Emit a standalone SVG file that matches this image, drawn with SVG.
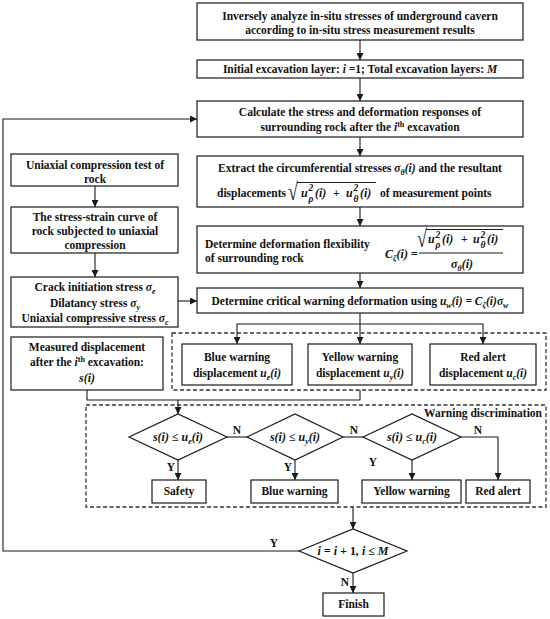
<svg xmlns="http://www.w3.org/2000/svg" width="550" height="619" viewBox="0 0 550 619">
<style>
.box{fill:#fff;stroke:#1a1a1a;stroke-width:1.2}
.dash{fill:none;stroke:#333;stroke-width:1.3;stroke-dasharray:4 2.5}
.t{font-family:"Liberation Serif","Times New Roman",serif;font-weight:bold;font-size:11.5px;fill:#111}
.m{font-style:italic}
.c{text-anchor:middle}
.e{text-anchor:end}
.sb{font-size:8px}
.mt{font-family:"Liberation Serif","Times New Roman",serif;font-weight:bold;font-style:italic;font-size:12px;fill:#111}
.sm{font-size:9.5px}
.rad{font-family:"Liberation Serif","DejaVu Serif",serif;font-size:18px;fill:#111}
.ln{fill:none;stroke:#1a1a1a;stroke-width:1.1}
.ar{marker-end:url(#ah)}
</style>
<defs>
<marker id="ah" viewBox="0 0 10 10" refX="10" refY="5" markerWidth="7" markerHeight="7" markerUnits="userSpaceOnUse" orient="auto">
<path d="M0,0 L10,5 L0,10 z" fill="#1a1a1a"/>
</marker>
</defs>
<rect width="550" height="619" fill="#fff"/>

<g id="group-warnings"><rect class="dash" x="172" y="333" width="374" height="57"/></g>
<g id="group-discrimination"><rect class="dash" x="86" y="405" width="460" height="102"/>
<text class="t e" x="542" y="417">Warning discrimination</text></g>

<g id="connectors">
<line class="ln ar" x1="360" y1="40" x2="360" y2="60"/>
<line class="ln ar" x1="360" y1="78" x2="360" y2="101"/>
<line class="ln ar" x1="360" y1="137" x2="360" y2="156"/>
<line class="ln ar" x1="360" y1="207" x2="360" y2="226"/>
<line class="ln ar" x1="360" y1="273" x2="360" y2="288"/>
<line class="ln ar" x1="95" y1="186" x2="95" y2="207"/>
<line class="ln ar" x1="95" y1="253" x2="95" y2="277"/>
<line class="ln ar" x1="178" y1="301" x2="197" y2="301"/>
<polyline class="ln" points="360,313 360,324"/>
<polyline class="ln ar" points="360,324 237,324 237,344"/>
<line class="ln ar" x1="360" y1="324" x2="360" y2="344"/>
<polyline class="ln ar" points="360,324 483,324 483,344"/>
<polyline class="ln" points="87,390 87,400 360,400 360,390"/>
<line class="ln ar" x1="178" y1="400" x2="178" y2="414"/>
<line class="ln" x1="227" y1="437" x2="247" y2="437"/>
<line class="ln" x1="343" y1="437" x2="363" y2="437"/>
<polyline class="ln ar" points="461,437 498,437 498,480"/>
<line class="ln ar" x1="178" y1="460" x2="178" y2="480"/>
<line class="ln ar" x1="295" y1="460" x2="295" y2="480"/>
<line class="ln ar" x1="412" y1="460" x2="412" y2="480"/>
<line class="ln ar" x1="353" y1="507" x2="353" y2="529"/>
<line class="ln ar" x1="353" y1="573" x2="353" y2="593"/>
<polyline class="ln ar" points="299,551 3,551 3,119 197,119"/>
<text class="t c" x="237" y="434">N</text>
<text class="t c" x="354" y="434">N</text>
<text class="t c" x="478" y="434">N</text>
<text class="t c" x="171" y="471">Y</text>
<text class="t c" x="288" y="471">Y</text>
<text class="t c" x="373" y="466">Y</text>
<text class="t c" x="274" y="547">Y</text>
<text class="t c" x="345" y="586">N</text>
</g>

<g id="box-inverse"><rect class="box" x="197" y="3" width="326" height="37"/>
<text class="t c" x="360" y="20">Inversely analyze in-situ stresses of underground cavern</text>
<text class="t c" x="360" y="34">according to in-situ stress measurement results</text></g>

<g id="box-initial"><rect class="box" x="197" y="60" width="326" height="18"/>
<text class="t c" x="360" y="73">Initial excavation layer: <tspan class="m">i</tspan> =1; Total excavation layers: <tspan class="m">M</tspan></text></g>

<g id="box-calculate"><rect class="box" x="197" y="101" width="326" height="36"/>
<text class="t c" x="360" y="116">Calculate the stress and deformation responses of</text>
<text class="t c" x="360" y="131">surrounding rock after the <tspan class="m">i</tspan><tspan class="sb" dy="-4">th</tspan><tspan dy="4"> excavation</tspan></text></g>

<g id="box-extract"><rect class="box" x="197" y="156" width="326" height="51"/>
<text class="t c" x="360" y="172">Extract the circumferential stresses <tspan class="m">σ</tspan><tspan class="m sb" dy="3">θ</tspan><tspan class="m" dy="-3">(i)</tspan> and the resultant</text>
<text class="t e" x="286" y="197">displacements</text>
<text class="rad" transform="translate(288,200) scale(1,1.35)">√</text>
<line class="ln" x1="297" y1="182.5" x2="376" y2="182.5"/>
<text class="mt" x="301" y="197">u<tspan class="sm" x="308.5" y="191">2</tspan><tspan class="sm" x="308.5" y="202">ρ</tspan><tspan x="315" y="197">(i)</tspan></text>
<text class="t" x="333" y="197">+</text>
<text class="mt" x="346" y="197">u<tspan class="sm" x="353.5" y="191">2</tspan><tspan class="sm" x="353.5" y="202">θ</tspan><tspan x="360" y="197">(i)</tspan></text>
<text class="t" x="380" y="197">of measurement points</text></g>

<g id="box-flexibility"><rect class="box" x="197" y="226" width="326" height="47"/>
<text class="t" x="205" y="248">Determine deformation flexibility</text>
<text class="t" x="205" y="262">of surrounding rock</text>
<text class="mt" x="385" y="258">C<tspan class="sb" dy="3">ζ</tspan><tspan dy="-3">(i) =</tspan></text>
<line class="ln" x1="419" y1="253" x2="503" y2="253"/>
<text class="rad" transform="translate(417,247) scale(1,1.35)">√</text>
<line class="ln" x1="426" y1="229.5" x2="503" y2="229.5"/>
<text class="mt" x="428" y="243">u<tspan class="sm" x="435.5" y="237.5">2</tspan><tspan class="sm" x="435.5" y="248">ρ</tspan><tspan x="442" y="243">(i)</tspan></text>
<text class="t" x="461" y="243">+</text>
<text class="mt" x="473" y="243">u<tspan class="sm" x="480.5" y="237.5">2</tspan><tspan class="sm" x="480.5" y="248">θ</tspan><tspan x="487" y="243">(i)</tspan></text>
<text class="mt c" x="462" y="268">σ<tspan class="sb" dy="3">θ</tspan><tspan dy="-3">(i)</tspan></text></g>

<g id="box-critical"><rect class="box" x="197" y="288" width="326" height="25"/>
<text class="t c" x="360" y="305">Determine critical warning deformation using <tspan class="m">u</tspan><tspan class="m sb" dy="3">w</tspan><tspan class="m" dy="-3">(i) = C</tspan><tspan class="m sb" dy="3">ζ</tspan><tspan class="m" dy="-3">(i)σ</tspan><tspan class="m sb" dy="3">w</tspan></text></g>

<g id="box-uniaxial-test"><rect class="box" x="11" y="154" width="167" height="32"/>
<text class="t c" x="95" y="169">Uniaxial compression test of</text>
<text class="t c" x="95" y="183">rock</text></g>

<g id="box-stress-strain"><rect class="box" x="11" y="207" width="167" height="46"/>
<text class="t c" x="95" y="221">The stress-strain curve of</text>
<text class="t c" x="95" y="235">rock subjected to uniaxial</text>
<text class="t c" x="95" y="249">compression</text></g>

<g id="box-stresses"><rect class="box" x="11" y="277" width="167" height="50"/>
<text class="t c" x="95" y="291">Crack initiation stress <tspan class="m">σ</tspan><tspan class="m sb" dy="3">e</tspan></text>
<text class="t c" x="95" y="307">Dilatancy stress <tspan class="m">σ</tspan><tspan class="m sb" dy="3">y</tspan></text>
<text class="t c" x="95" y="322">Uniaxial compressive stress <tspan class="m">σ</tspan><tspan class="m sb" dy="3">c</tspan></text></g>

<g id="box-measured"><rect class="box" x="11" y="337" width="152" height="53"/>
<text class="t c" x="87" y="351">Measured displacement</text>
<text class="t c" x="87" y="366">after the <tspan class="m">i</tspan><tspan class="sb" dy="-4">th</tspan><tspan dy="4"> excavation:</tspan></text>
<text class="mt c" x="87" y="382">s(i)</text></g>

<g id="box-blue-disp"><rect class="box" x="182" y="344" width="110" height="41"/>
<text class="t c" x="237" y="361">Blue warning</text>
<text class="t c" x="237" y="377">displacement <tspan class="m">u</tspan><tspan class="m sb" dy="3">e</tspan><tspan class="m" dy="-3">(i)</tspan></text></g>

<g id="box-yellow-disp"><rect class="box" x="308" y="344" width="104" height="41"/>
<text class="t c" x="360" y="361">Yellow warning</text>
<text class="t c" x="360" y="377">displacement <tspan class="m">u</tspan><tspan class="m sb" dy="3">y</tspan><tspan class="m" dy="-3">(i)</tspan></text></g>

<g id="box-red-disp"><rect class="box" x="430" y="344" width="106" height="41"/>
<text class="t c" x="483" y="361">Red alert</text>
<text class="t c" x="483" y="377">displacement <tspan class="m">u</tspan><tspan class="m sb" dy="3">c</tspan><tspan class="m" dy="-3">(i)</tspan></text></g>

<g id="dec-blue"><polygon class="box" points="129,437 178,414 227,437 178,460"/>
<text class="mt c" x="178" y="441">s(i) ≤ u<tspan class="sb" dy="3">e</tspan><tspan dy="-3">(i)</tspan></text></g>
<g id="dec-yellow"><polygon class="box" points="247,437 295,414 343,437 295,460"/>
<text class="mt c" x="295" y="441">s(i) ≤ u<tspan class="sb" dy="3">y</tspan><tspan dy="-3">(i)</tspan></text></g>
<g id="dec-red"><polygon class="box" points="363,437 412,414 461,437 412,460"/>
<text class="mt c" x="412" y="441">s(i) ≤ u<tspan class="sb" dy="3">c</tspan><tspan dy="-3">(i)</tspan></text></g>

<g id="box-safety"><rect class="box" x="152" y="480" width="54" height="23"/>
<text class="t c" x="179" y="495">Safety</text></g>
<g id="box-blue-warning"><rect class="box" x="251" y="480" width="87" height="23"/>
<text class="t c" x="294.5" y="495">Blue warning</text></g>
<g id="box-yellow-warning"><rect class="box" x="362" y="480" width="99" height="23"/>
<text class="t c" x="411.5" y="495">Yellow warning</text></g>
<g id="box-red-alert"><rect class="box" x="466" y="480" width="64" height="23"/>
<text class="t c" x="498" y="495">Red alert</text></g>

<g id="dec-loop"><polygon class="box" points="299,551 353,529 407,551 353,573"/>
<text class="mt c" x="353" y="555">i = i + <tspan font-style="normal">1</tspan>, i ≤ M</text></g>

<g id="box-finish"><rect class="box" x="323" y="593" width="61" height="23"/>
<text class="t c" x="353.5" y="608">Finish</text></g>
</svg>
